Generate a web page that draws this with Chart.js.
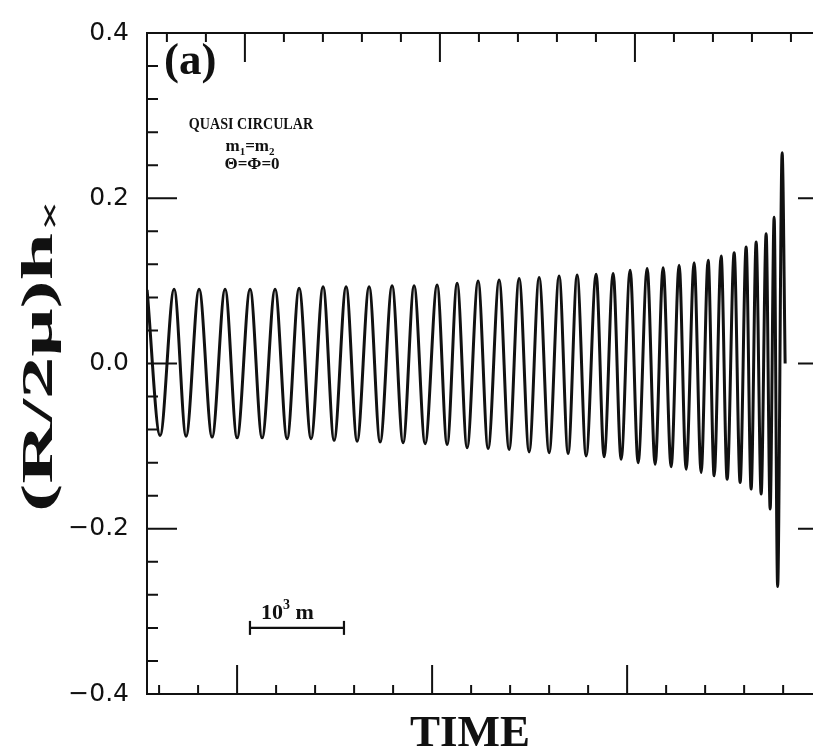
<!DOCTYPE html>
<html>
<head>
<meta charset="utf-8">
<script src="https://cdn.jsdelivr.net/npm/chart.js@4.4.1/dist/chart.umd.min.js"></script>
<style>
  html, body { margin: 0; padding: 0; background: #fff; overflow: hidden; }
  #wrap { position: absolute; left: 0; top: 0; width: 830px; height: 752px; }
</style>
</head>
<body>
<div id="wrap"><canvas id="chart" width="830" height="752"></canvas></div>
<script>
// time is counted in minor x ticks, strain is (R/2mu) h_x, read at every crest and trough
const waveTime = [2.692, 3.026, 3.385, 3.692, 4.026, 4.359, 4.692, 5.000, 5.333, 5.641,
  5.974, 6.282, 6.590, 6.897, 7.205, 7.487, 7.795, 8.077, 8.385, 8.667,
  8.974, 9.256, 9.538, 9.821, 10.128, 10.385, 10.641, 10.897, 11.179, 11.436,
  11.718, 11.974, 12.231, 12.487, 12.744, 13.000, 13.256, 13.487, 13.718, 13.949,
  14.205, 14.410, 14.641, 14.846, 15.077, 15.282, 15.513, 15.718, 15.923, 16.128,
  16.333, 16.513, 16.718, 16.897, 17.077, 17.231, 17.410, 17.564, 17.744, 17.897,
  18.051, 18.179, 18.308, 18.436, 18.564, 18.667, 18.769, 18.859, 18.974, 19.051]
const waveStrain = [0.089, -0.087, 0.090, -0.088, 0.090, -0.089, 0.090, -0.090, 0.090, -0.090,
  0.090, -0.091, 0.091, -0.091, 0.093, -0.093, 0.093, -0.094, 0.093, -0.095,
  0.094, -0.096, 0.094, -0.097, 0.095, -0.098, 0.097, -0.102, 0.100, -0.103,
  0.101, -0.104, 0.103, -0.107, 0.104, -0.108, 0.106, -0.109, 0.107, -0.112,
  0.108, -0.113, 0.109, -0.116, 0.113, -0.120, 0.115, -0.122, 0.116, -0.125,
  0.119, -0.128, 0.122, -0.132, 0.125, -0.136, 0.130, -0.140, 0.134, -0.144,
  0.141, -0.152, 0.147, -0.158, 0.157, -0.176, 0.177, -0.270, 0.255, 0.000]

// 10^3 m scale bar
const scaleBarTime = [5.33, 7.74]
const scaleBarLevel = -0.32

const timeRange = [2.69, 20.15]
const topTimeRange = [2.49, 19.95] // top frame is printed slightly shifted
const strainRange = [-0.4, 0.4]

const ink = '#111'
const serif = '"Liberation Serif", "Times New Roman", serif'

const fmtStrain = v => {
  if (Math.abs(v * 5 - Math.round(v * 5)) > 1e-6) return ''
  const s = Math.abs(v).toFixed(1)
  return v < -1e-9 ? '\u2212' + s : s
}

const inwardTicks = {
  id: 'inwardTicks',
  afterDraw(chart) {
    const { ctx, chartArea: a } = chart
    ctx.save()
    ctx.strokeStyle = ink
    ctx.lineWidth = 2
    ctx.beginPath()
    ;['x', 'x2'].forEach(id => {
      const s = chart.scales[id]
      s.ticks.forEach(t => {
        const v = t.value
        if (Math.abs(v - Math.round(v)) > 1e-6) return
        const len = Math.round(v) % 5 === 0 ? 29 : 9
        const px = s.getPixelForValue(v)
        const y0 = id === 'x' ? a.bottom : a.top
        ctx.moveTo(px, y0)
        ctx.lineTo(px, id === 'x' ? y0 - len : y0 + len)
      })
    })
    ;['y', 'y2'].forEach(id => {
      const s = chart.scales[id]
      s.ticks.forEach(t => {
        const v = t.value
        const len = fmtStrain(v) ? 30 : 11
        const py = s.getPixelForValue(v)
        const x0 = id === 'y' ? a.left : a.right
        ctx.moveTo(x0, py)
        ctx.lineTo(id === 'y' ? x0 + len : x0 - len, py)
      })
    })
    ctx.stroke()
    ctx.restore()
  }
}

function textRun(ctx, parts, x, y, align, sx = 1) {
  // parts: [text, size, dy]
  let w = 0
  parts.forEach(p => { ctx.font = `bold ${p[1]}px ${serif}`; w += ctx.measureText(p[0]).width })
  ctx.save()
  ctx.translate(align === 'center' ? x - w * sx / 2 : x, y)
  ctx.scale(sx, 1)
  let cx = 0
  parts.forEach(p => {
    ctx.font = `bold ${p[1]}px ${serif}`
    ctx.fillText(p[0], cx, p[2] || 0)
    cx += ctx.measureText(p[0]).width
  })
  ctx.restore()
}

const labels = {
  id: 'labels',
  afterDraw(chart) {
    const { ctx } = chart
    ctx.save()
    ctx.fillStyle = ink
    ctx.textBaseline = 'alphabetic'
    ctx.textAlign = 'left'

    textRun(ctx, [['(a)', 45]], 164, 74)
    textRun(ctx, [['QUASI CIRCULAR', 17]], 251, 129, 'center', 0.83)
    textRun(ctx, [['m', 17], ['1', 11, 4], ['=m', 17], ['2', 11, 4]], 250, 151, 'center')
    textRun(ctx, [['\u0398=\u03A6=0', 17]], 252, 169, 'center')

    const xs = chart.scales.x, ys = chart.scales.y
    const barLeft = xs.getPixelForValue(scaleBarTime[0])
    const barY = ys.getPixelForValue(scaleBarLevel)
    textRun(ctx, [['10', 22], ['3', 14, -10], [' m', 22]], barLeft + 11, barY - 9)

    textRun(ctx, [['TIME', 45]], 470, 746, 'center')

    // rotated y title, stretched along the text like the print
    ctx.save()
    ctx.translate(52, 512)
    ctx.rotate(-Math.PI / 2)
    ctx.font = `bold 44px ${serif}`
    const main = '(R/2\u03BC)h'
    const stretch = 279 / ctx.measureText(main).width
    ctx.scale(stretch, 1)
    ctx.fillText(main, 0, 0)
    const w = ctx.measureText(main).width
    ctx.font = `bold 28px ${serif}`
    ctx.fillText('\u00D7', w + 1, 7)
    ctx.restore()
    ctx.restore()
  }
}

const wave = waveTime.map((t, i) => ({ x: t, y: waveStrain[i] }))
const bar = scaleBarTime.map(t => ({ x: t, y: scaleBarLevel }))

const axisBorder = { display: true, color: ink, width: 2 }

new Chart(document.getElementById('chart'), {
  type: 'line',
  data: {
    datasets: [
      {
        data: wave,
        borderColor: ink,
        borderWidth: 3,
        pointRadius: 0,
        cubicInterpolationMode: 'monotone',
        fill: false
      },
      {
        data: bar,
        borderColor: ink,
        borderWidth: 2.2,
        pointStyle: 'line',
        pointRotation: 90,
        pointRadius: 7,
        pointBorderWidth: 2.2,
        pointBorderColor: ink,
        tension: 0
      }
    ]
  },
  options: {
    responsive: false,
    animation: false,
    events: [],
    layout: { padding: 0, autoPadding: false },
    plugins: { legend: { display: false }, tooltip: { enabled: false } },
    scales: {
      x: {
        type: 'linear', position: 'bottom', min: timeRange[0], max: timeRange[1],
        ticks: { stepSize: 1, display: false, includeBounds: false, autoSkip: false },
        grid: { display: false },
        border: axisBorder,
        afterFit: s => { s.height = 58 }
      },
      x2: {
        type: 'linear', position: 'top', min: topTimeRange[0], max: topTimeRange[1],
        ticks: { stepSize: 1, display: false, includeBounds: false, autoSkip: false },
        grid: { display: false },
        border: axisBorder,
        afterFit: s => { s.height = 20 }
      },
      y: {
        type: 'linear', position: 'left', min: strainRange[0], max: strainRange[1],
        ticks: {
          stepSize: 0.04, autoSkip: false, padding: 18, color: ink,
          font: { family: '"DejaVu Sans"', size: 25 },
          callback: v => fmtStrain(v)
        },
        grid: { display: false, drawTicks: false },
        border: axisBorder,
        afterFit: s => { s.width = 147 }
      },
      y2: {
        type: 'linear', position: 'right', min: strainRange[0], max: strainRange[1],
        ticks: { stepSize: 0.04, display: false, autoSkip: false },
        grid: { display: false, drawTicks: false },
        border: axisBorder,
        afterFit: s => { s.width = 2 }
      }
    }
  },
  plugins: [inwardTicks, labels]
})
</script>
</body>
</html>
